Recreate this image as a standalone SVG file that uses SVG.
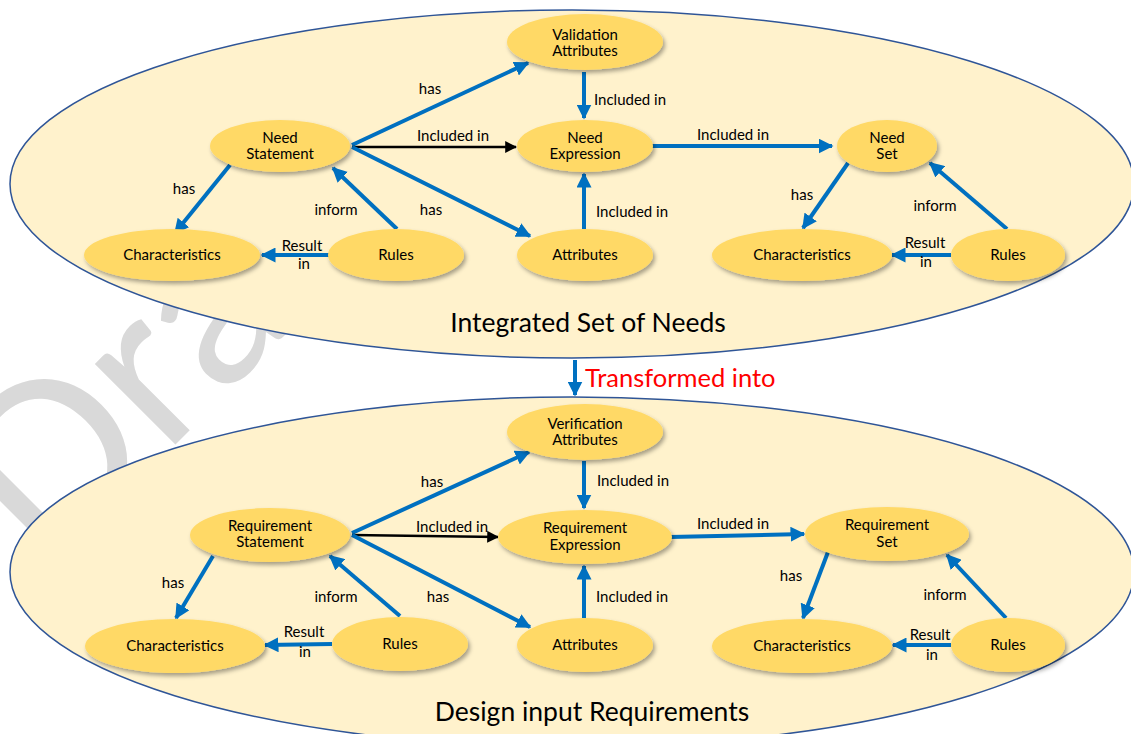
<svg xmlns="http://www.w3.org/2000/svg" width="1131" height="734" viewBox="0 0 1131 734">
<style>
.bg{fill:#FFF2CC;stroke:#2F5597;stroke-width:1.5}
.nd{fill:#FFD966;filter:url(#sh)}
.nt{font-family:Lato,"Open Sans",sans-serif;font-size:15px;fill:#000;text-anchor:middle}
.lb{font-family:Lato,"Open Sans",sans-serif;font-size:15px;fill:#000}
.big{font-family:Lato,"Open Sans",sans-serif;font-size:26.5px;fill:#000;text-anchor:middle}
.bl{stroke:#0070C0;stroke-width:4;fill:none;marker-end:url(#ab)}
.bk{stroke:#000;stroke-width:2.5;fill:none;marker-end:url(#ak)}
</style>
<defs>
<filter id="sh" x="-20%" y="-30%" width="150%" height="180%">
<feDropShadow dx="2" dy="3" stdDeviation="2" flood-color="#000" flood-opacity="0.35"/>
</filter>
<marker id="ab" viewBox="0 0 10 10" refX="9" refY="5" markerWidth="15" markerHeight="15" markerUnits="userSpaceOnUse" orient="auto"><path d="M0,0 L10,5 L0,10 z" fill="#0070C0"/></marker>
<marker id="ak" viewBox="0 0 10 10" refX="9" refY="5" markerWidth="12" markerHeight="12" markerUnits="userSpaceOnUse" orient="auto"><path d="M0,0 L10,5 L0,10 z" fill="#000"/></marker>
</defs>
<rect width="1131" height="734" fill="#fff"/>
<text x="45" y="575" transform="rotate(-45 45 575)" font-family="Lato,'Open Sans',sans-serif" font-size="225" fill="#D9D9D9">Draft</text>
<g id="setNeeds"><ellipse class="bg" cx="572" cy="184" rx="562" ry="174"/><text class="big" x="588" y="332">Integrated Set of Needs</text></g>
<g id="setReqs"><ellipse class="bg" cx="572" cy="572" rx="562" ry="175"/><text class="big" x="592" y="721">Design input Requirements</text></g>
<g id="connectors">
<line class="bl" x1="352" y1="145" x2="528" y2="63"/>
<line class="bk" x1="352" y1="147" x2="516" y2="147"/>
<line class="bl" x1="352" y1="147" x2="530" y2="236"/>
<line class="bl" x1="584" y1="72" x2="584" y2="118"/>
<line class="bl" x1="584" y1="229" x2="584" y2="174"/>
<line class="bl" x1="652" y1="146" x2="832" y2="146"/>
<line class="bl" x1="230" y1="165" x2="175" y2="233"/>
<line class="bl" x1="397" y1="229" x2="333" y2="168"/>
<line class="bl" x1="329" y1="255" x2="262" y2="255"/>
<line class="bl" x1="848" y1="163" x2="803" y2="228"/>
<line class="bl" x1="1007" y1="229" x2="930" y2="163"/>
<line class="bl" x1="951" y1="255" x2="892" y2="255"/>
<line class="bl" x1="575" y1="360" x2="575" y2="395"/>
<line class="bl" x1="352" y1="533" x2="529" y2="452"/>
<line class="bk" x1="352" y1="535" x2="498" y2="537"/>
<line class="bl" x1="352" y1="535" x2="530" y2="627"/>
<line class="bl" x1="584" y1="461" x2="584" y2="508"/>
<line class="bl" x1="584" y1="618" x2="584" y2="566"/>
<line class="bl" x1="670" y1="537" x2="804" y2="534"/>
<line class="bl" x1="213" y1="556" x2="176" y2="618"/>
<line class="bl" x1="400" y1="616" x2="330" y2="556"/>
<line class="bl" x1="332" y1="644" x2="265" y2="645"/>
<line class="bl" x1="828" y1="552" x2="803" y2="618"/>
<line class="bl" x1="1006" y1="618" x2="947" y2="555"/>
<line class="bl" x1="951" y1="645" x2="893" y2="645"/>
<text class="lb" x="430" y="94" text-anchor="middle">has</text>
<text class="lb" x="453" y="141" text-anchor="middle">Included in</text>
<text class="lb" x="431" y="215" text-anchor="middle">has</text>
<text class="lb" x="594" y="105">Included in</text>
<text class="lb" x="596" y="217">Included in</text>
<text class="lb" x="733" y="140" text-anchor="middle">Included in</text>
<text class="lb" x="184" y="194" text-anchor="middle">has</text>
<text class="lb" x="336" y="215" text-anchor="middle">inform</text>
<text class="lb" x="302" y="251" text-anchor="middle">Result</text>
<text class="lb" x="304" y="269" text-anchor="middle">in</text>
<text class="lb" x="802" y="200" text-anchor="middle">has</text>
<text class="lb" x="935" y="211" text-anchor="middle">inform</text>
<text class="lb" x="925" y="248" text-anchor="middle">Result</text>
<text class="lb" x="926" y="267" text-anchor="middle">in</text>
<text x="585" y="387" font-family="Lato,'Open Sans',sans-serif" font-size="25.5" fill="#FF0000">Transformed into</text>
<text class="lb" x="432" y="487" text-anchor="middle">has</text>
<text class="lb" x="452" y="532" text-anchor="middle">Included in</text>
<text class="lb" x="438" y="602" text-anchor="middle">has</text>
<text class="lb" x="597" y="486">Included in</text>
<text class="lb" x="596" y="602">Included in</text>
<text class="lb" x="733" y="529" text-anchor="middle">Included in</text>
<text class="lb" x="173" y="588" text-anchor="middle">has</text>
<text class="lb" x="336" y="602" text-anchor="middle">inform</text>
<text class="lb" x="304" y="637" text-anchor="middle">Result</text>
<text class="lb" x="305" y="657" text-anchor="middle">in</text>
<text class="lb" x="791" y="581" text-anchor="middle">has</text>
<text class="lb" x="945" y="600" text-anchor="middle">inform</text>
<text class="lb" x="930" y="640" text-anchor="middle">Result</text>
<text class="lb" x="932" y="660" text-anchor="middle">in</text>
</g>
<g id="validationAttributes"><ellipse class="nd" cx="585" cy="42" rx="78" ry="28"/><text class="nt" x="585" y="40">Validation</text><text class="nt" x="585" y="56">Attributes</text></g>
<g id="needStatement"><ellipse class="nd" cx="280" cy="146" rx="70" ry="26"/><text class="nt" x="280" y="143">Need</text><text class="nt" x="280" y="159">Statement</text></g>
<g id="needExpression"><ellipse class="nd" cx="585" cy="146" rx="68" ry="26"/><text class="nt" x="585" y="143">Need</text><text class="nt" x="585" y="159">Expression</text></g>
<g id="needSet"><ellipse class="nd" cx="887" cy="146" rx="50" ry="26"/><text class="nt" x="887" y="143">Need</text><text class="nt" x="887" y="159">Set</text></g>
<g id="characteristicsL1"><ellipse class="nd" cx="172" cy="255" rx="88" ry="26"/><text class="nt" x="172" y="260">Characteristics</text></g>
<g id="rulesL1"><ellipse class="nd" cx="396" cy="255" rx="68" ry="26"/><text class="nt" x="396" y="260">Rules</text></g>
<g id="attributes1"><ellipse class="nd" cx="585" cy="255" rx="68" ry="26"/><text class="nt" x="585" y="260">Attributes</text></g>
<g id="characteristicsR1"><ellipse class="nd" cx="802" cy="255" rx="90" ry="26"/><text class="nt" x="802" y="260">Characteristics</text></g>
<g id="rulesR1"><ellipse class="nd" cx="1008" cy="255" rx="57" ry="26"/><text class="nt" x="1008" y="260">Rules</text></g>
<g id="verificationAttributes"><ellipse class="nd" cx="585" cy="432" rx="78" ry="28"/><text class="nt" x="585" y="429">Verification</text><text class="nt" x="585" y="445">Attributes</text></g>
<g id="requirementStatement"><ellipse class="nd" cx="270" cy="535" rx="80" ry="27"/><text class="nt" x="270" y="531">Requirement</text><text class="nt" x="270" y="547">Statement</text></g>
<g id="requirementExpression"><ellipse class="nd" cx="585" cy="537" rx="87" ry="27"/><text class="nt" x="585" y="533">Requirement</text><text class="nt" x="585" y="550">Expression</text></g>
<g id="requirementSet"><ellipse class="nd" cx="887" cy="534" rx="82" ry="27"/><text class="nt" x="887" y="530">Requirement</text><text class="nt" x="887" y="547">Set</text></g>
<g id="characteristicsL2"><ellipse class="nd" cx="175" cy="646" rx="90" ry="27"/><text class="nt" x="175" y="651">Characteristics</text></g>
<g id="rulesL2"><ellipse class="nd" cx="400" cy="644" rx="68" ry="27"/><text class="nt" x="400" y="649">Rules</text></g>
<g id="attributes2"><ellipse class="nd" cx="585" cy="645" rx="68" ry="27"/><text class="nt" x="585" y="650">Attributes</text></g>
<g id="characteristicsR2"><ellipse class="nd" cx="802" cy="646" rx="90" ry="27"/><text class="nt" x="802" y="651">Characteristics</text></g>
<g id="rulesR2"><ellipse class="nd" cx="1008" cy="645" rx="57" ry="27"/><text class="nt" x="1008" y="650">Rules</text></g>
</svg>
